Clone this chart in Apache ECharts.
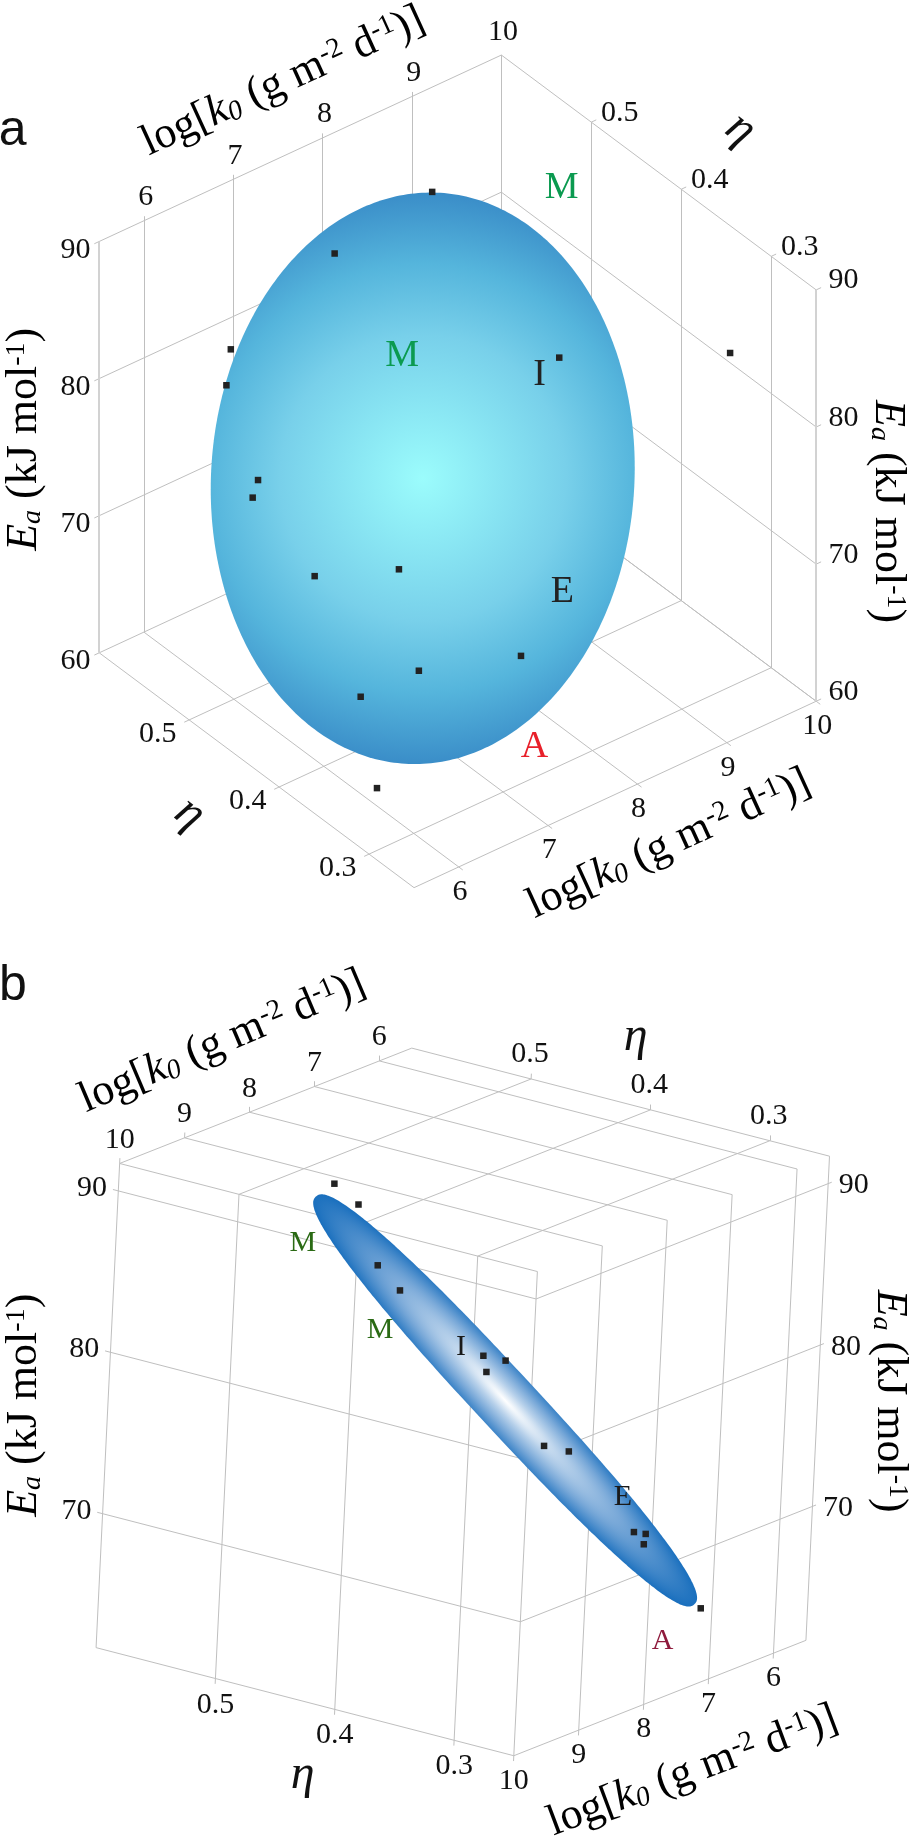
<!DOCTYPE html>
<html><head><meta charset="utf-8">
<style>html,body{margin:0;padding:0;background:#fff}#c{width:911px;height:1837px}</style>
<script src="https://cdn.jsdelivr.net/npm/echarts@6/dist/echarts.min.js"></script>
</head><body><div id="c"></div>
<script>
// ---- data (both views show the same samples) ----
const kTicks = [6, 7, 8, 9, 10];
const etaTicks = [0.5, 0.4, 0.3];
const eaTicksA = [60, 70, 80, 90];
const eaTicksB = [70, 80, 90];
const kRange = [5.5, 10];
const etaRange = [0.6, 0.25];
const eaRangeA = [60, 90];
const eaRangeB = [61.7, 91.7];

const pointK   = [8.32, 7.47, 6.59, 6.43, 6.19, 6.13, 9.52, 6.25, 6.73, 7.19, 6.50, 6.01, 5.81];
const pointEta = [0.510, 0.534, 0.562, 0.551, 0.492, 0.492, 0.298, 0.435, 0.389, 0.299, 0.344, 0.360, 0.322];
const pointEa  = [89.5, 86.4, 80.7, 79.1, 75.8, 74.7, 84.5, 71.4, 72.7, 69.4, 68.2, 67.0, 62.8];
// a sample visible only in view a
const extraK = [7.93], extraEta = [0.33], extraEa = [87.4];

const ellipseCenterA = [7.258, 0.415, 76.47];
const ellipseCenterB = [7.276, 0.415, 76.23];
const ellipseAMajor = [0.198, 0, 20.22];
const ellipseAMinor = [2.364, 0, -8.10];
const ellipseBMajor = [3.128, 0, 17.6];
const ellipseBMinor = [-0.329, 0, 0.74];

const regimeNames = ['M', 'M', 'I', 'E', 'A'];

// ---- axonometric views of (k, eta, Ea) on each panel's hidden value axes ----
const projA = (k, e, a) => [171 + 154 * (k - 5.5) + 1550 * (0.6 - e), 1112 - 71 * (k - 5.5) + 1150 * (0.6 - e) - 23.5 * (a - 60)];
const projB = (k, e, a) => [165 + 111.5 * (10 - k) + 2050 * (0.6 - e) + 1.35 * (a - 61.7), 1248 - 44 * (10 - k) + 530 * (0.6 - e) - 27.7 * (a - 61.7)];

const seg = (p, a, b) => ({ coords: [p(...a), p(...b)] });
const [k0, k1] = kRange, [e0, e1] = etaRange;
// small tick stubs past the box edges
const dk = 0.055, de = 0.0045, da = 0.33;

// panel a gridlines
const gridA = [], heavyA = [];
{
  const [a0, a1] = eaRangeA;
  kTicks.forEach(k => { gridA.push(seg(projA, [k, e0, a0], [k, e0, a1 + (k === k1 ? 0 : da)])); gridA.push(seg(projA, [k, e0, a0], [k, e1 - de, a0])); });
  etaTicks.forEach(e => { gridA.push(seg(projA, [k1, e, a0], [k1, e, a1])); gridA.push(seg(projA, [k0 - dk, e, a0], [k1, e, a0])); gridA.push(seg(projA, [k1, e, a1], [k1 + dk, e, a1])); });
  eaTicksA.forEach(a => { gridA.push(seg(projA, [k0 - dk, e0, a], [k1, e0, a])); gridA.push(seg(projA, [k1, e0, a], [k1, e1, a])); gridA.push(seg(projA, [k1, e1, a], [k1 + dk, e1, a])); });
  gridA.push(seg(projA, [k0, e0, a0], [k0, e1, a0]), seg(projA, [k0, e1, a0], [k1, e1, a0]));
  heavyA.push(seg(projA, [k0, e0, a0], [k0, e0, a1]), seg(projA, [k1, e1, a0], [k1, e1, a1]));
}
// panel b gridlines
const gridB = [];
{
  const [a0, a1] = eaRangeB;
  [...kTicks, k0].forEach(k => { gridB.push(seg(projB, [k, e0, a1], [k, e1, a1])); gridB.push(seg(projB, [k, e1, a0 - (k === k0 ? 0 : da)], [k, e1, a1])); });
  kTicks.forEach(k => gridB.push(seg(projB, [k, e0, a1], [k, e0, a1 + da])));
  [...etaTicks, e0].forEach(e => { gridB.push(seg(projB, [k0, e, a1], [k1, e, a1])); gridB.push(seg(projB, [k1, e, a0 - (e === e0 ? 0 : da)], [k1, e, a1])); });
  etaTicks.forEach(e => gridB.push(seg(projB, [k0, e, a1], [k0, e, a1 + da])));
  eaTicksB.forEach(a => { gridB.push(seg(projB, [k1, e0 + de, a], [k1, e1, a])); gridB.push(seg(projB, [k1, e1, a], [k0 - dk, e1, a])); });
  gridB.push(seg(projB, [k1, e0, a0], [k1, e1, a0]), seg(projB, [k1, e1, a0], [k0, e1, a0]));
}

// ---- text ----
const SERIF = '"Liberation Serif","Times New Roman",serif';
const rich = {
  n: { fontFamily: SERIF, fontSize: 44, color: '#111' },
  i: { fontFamily: SERIF, fontSize: 44, fontStyle: 'italic', color: '#111' },
  sub: { fontFamily: SERIF, fontSize: 28, fontStyle: 'italic', color: '#111', verticalAlign: 'bottom' },
  sup: { fontFamily: SERIF, fontSize: 28, color: '#111', verticalAlign: 'top' }
};
const kTitle = '{n|log[}{i|k}{sub|0}{n| (g m}{sup|-2}{n| d}{sup|-1}{n|)]}';
const eaTitle = '{i|E}{sub|a}{n| (kJ mol}{sup|-1}{n|)}';
const deg = d => d * Math.PI / 180;

function tickTexts(list, p, off, fmt) { return list.map(v => { const q = p(v); return { x: q[0] + off[0], y: q[1] + off[1], t: fmt ? v.toFixed(1) : String(v), s: 30 }; }); }

const textA = [
  ...tickTexts(kTicks, k => projA(k, e0, eaRangeA[1]), [3, -40]),
  ...tickTexts(etaTicks, e => projA(k1, e, eaRangeA[1]), [49, -15], true),
  ...tickTexts(eaTicksA, a => projA(k0, e0, a), [-41, 15]),
  ...tickTexts(eaTicksA, a => projA(k1, e1, a), [47, -16]),
  ...tickTexts(etaTicks, e => projA(k0, e, eaRangeA[0]), [-54, 24], true),
  ...tickTexts(kTicks, k => projA(k, e1, eaRangeA[0]), [2, 43]),
  { x: 488, y: 133, r: 24.5, rich: kTitle },
  { x: 1153, y: 1440, r: 24.5, rich: kTitle },
  { x: 42, y: 746, r: 90, rich: eaTitle },
  { x: 1530, y: 870, r: -90, rich: eaTitle },
  { x: 1276, y: 215, r: -38, t: 'η', s: 48, st: 'italic' },
  { x: 327, y: 1388, r: -38, t: 'η', s: 48, st: 'italic' },
  { x: 968, y: 315, t: regimeNames[0], s: 38, c: '#0b9a50' },
  { x: 693, y: 603, t: regimeNames[1], s: 38, c: '#0b9a50' },
  { x: 930, y: 636, t: regimeNames[2], s: 38, c: '#222' },
  { x: 969, y: 1008, t: regimeNames[3], s: 38, c: '#222' },
  { x: 921, y: 1274, t: regimeNames[4], s: 38, c: '#e8202a' },
  { x: 22, y: 218, t: 'a', s: 50, f: '"Liberation Sans",Arial,sans-serif' }
];
const textB = [
  ...tickTexts(kTicks, k => projB(k, e0, eaRangeB[1]), [0, -40]),
  ...tickTexts(etaTicks, e => projB(k0, e, eaRangeB[1]), [-2, -42], true),
  ...tickTexts(eaTicksB, a => projB(k1, e0, a), [-45, -5]),
  ...tickTexts(eaTicksB, a => projB(k0, e1, a), [44, 3]),
  ...tickTexts(etaTicks, e => projB(k1, e, eaRangeB[0]), [0, 45], true),
  ...tickTexts(kTicks, k => projB(k, e1, eaRangeB[0]), [0, 43]),
  { x: 382, y: 208, r: 23, rich: kTitle },
  { x: 1190, y: 1460, r: 20.5, rich: kTitle },
  { x: 42, y: 832, r: 90, rich: eaTitle },
  { x: 1528, y: 825, r: -90, rich: eaTitle },
  { x: 1092, y: 200, t: 'η', s: 48, st: 'italic' },
  { x: 520, y: 1467, t: 'η', s: 48, st: 'italic' },
  { x: 520, y: 553, t: regimeNames[0], s: 30, c: '#2a6a14' },
  { x: 653, y: 703, t: regimeNames[1], s: 30, c: '#2a6a14' },
  { x: 792, y: 733, t: regimeNames[2], s: 30, c: '#1a1a1a' },
  { x: 1070, y: 990, t: regimeNames[3], s: 30, c: '#1a1a1a' },
  { x: 1138, y: 1236, t: regimeNames[4], s: 30, c: '#8e1a3c' },
  { x: 22, y: 112, t: 'b', s: 50, f: '"Liberation Sans",Arial,sans-serif' }
];

function textSeries(list, idx) {
  return {
    type: 'custom', coordinateSystem: 'cartesian2d', xAxisIndex: idx, yAxisIndex: idx, z: 6, silent: true, clip: false,
    data: list.map(o => [o.x, o.y]),
    renderItem(params, api) {
      const o = list[params.dataIndex];
      const q = api.coord([api.value(0), api.value(1)]);
      return {
        type: 'text', x: q[0], y: q[1], rotation: deg(o.r || 0),
        style: o.rich ? { text: o.rich, rich, align: 'center', verticalAlign: 'middle' }
          : { text: o.t, fontFamily: o.f || SERIF, fontSize: o.s, fontStyle: o.st || 'normal', fill: o.c || '#111', align: 'center', verticalAlign: 'middle' }
      };
    }
  };
}
// gradShort scales the colour ramp's short radius relative to the outline's short radius;
// power is the outline's exponent (2 = plain ellipse, larger = blunter ends)
function ellipseSeries(p, center, major, minor, stops, gradShort, power, idx) {
  const add = (a, b) => [a[0] + b[0], a[1] + b[1], a[2] + b[2]];
  const c = p(...center), m = p(...add(center, major)), n = p(...add(center, minor));
  return {
    type: 'custom', coordinateSystem: 'cartesian2d', xAxisIndex: idx, yAxisIndex: idx, z: 3, silent: true,
    data: [[...c, ...m, ...n]],
    renderItem(params, api) {
      const P0 = api.coord([api.value(0), api.value(1)]);
      const P1 = api.coord([api.value(2), api.value(3)]);
      const P2 = api.coord([api.value(4), api.value(5)]);
      const R = 100;
      const rm = Math.hypot(P1[0] - P0[0], P1[1] - P0[1]);
      const rn = Math.hypot(P2[0] - P0[0], P2[1] - P0[1]);
      const sx = rm / R, sy = rn * gradShort / R;
      const lx = rm / sx, ly = rn / sy;
      const outline = [];
      const steps = 360, ex = 2 / power;
      for (let i = 0; i < steps; i++) {
        const t = i / steps * 2 * Math.PI, ct = Math.cos(t), st = Math.sin(t);
        outline.push([lx * Math.sign(ct) * Math.pow(Math.abs(ct), ex), ly * Math.sign(st) * Math.pow(Math.abs(st), ex)]);
      }
      return {
        type: 'polygon', x: P0[0], y: P0[1],
        rotation: -Math.atan2(P1[1] - P0[1], P1[0] - P0[0]),
        scaleX: sx, scaleY: sy,
        shape: { points: outline },
        style: { fill: { type: 'radial', x: 0.5, y: 0.5, r: R / (2 * Math.min(lx, ly)), colorStops: stops } }
      };
    }
  };
}
const linesSeries = (data, idx, color, width, z) => ({
  type: 'lines', coordinateSystem: 'cartesian2d', xAxisIndex: idx, yAxisIndex: idx, polyline: false, silent: true, z,
  lineStyle: { color, width, opacity: 1, curveness: 0 }, data
});
const pts = (p, K, E, A) => K.map((k, i) => p(k, E[i], A[i]));
const pointSeries = (data, idx) => ({
  type: 'scatter', xAxisIndex: idx, yAxisIndex: idx, symbol: 'rect', symbolSize: 6.5, z: 5, silent: true,
  itemStyle: { color: '#222', opacity: 1 }, data
});

const hiddenAxis = (gridIndex, max, inverse) => ({ type: 'value', gridIndex, min: 0, max, inverse, show: false });
const chart = echarts.init(document.getElementById('c'), null, { renderer: 'canvas' });
chart.setOption({
  animation: false, backgroundColor: '#fff',
  grid: [
    { left: 0, top: 4, width: 907, height: 921 },
    { left: -1, top: 920.5, width: 911, height: 917 }
  ],
  xAxis: [hiddenAxis(0, 1563, false), hiddenAxis(1, 1563, false)],
  yAxis: [hiddenAxis(0, 1578.5, true), hiddenAxis(1, 1573, true)],
  series: [
    linesSeries(gridA, 0, '#bfbfbf', 1, 1),
    linesSeries(heavyA, 0, '#d2d2d2', 2, 1),
    ellipseSeries(projA, ellipseCenterA, ellipseAMajor, ellipseAMinor, [
      { offset: 0, color: '#9bfcfc' }, { offset: 0.5, color: '#78d0ea' }, { offset: 0.75, color: '#55b5dc' }, { offset: 1, color: '#3a8dc8' }], 1.35, 2, 0),
    pointSeries([...pts(projA, pointK, pointEta, pointEa), ...pts(projA, extraK, extraEta, extraEa)], 0),
    textSeries(textA, 0),
    linesSeries(gridB, 1, '#bfbfbf', 1, 1),
    ellipseSeries(projB, ellipseCenterB, ellipseBMajor, ellipseBMinor, [
      { offset: 0, color: '#ffffff' }, { offset: 0.3, color: '#b6d0ea' }, { offset: 0.6, color: '#78a8d8' }, { offset: 1, color: '#1b70be' }], 1.17, 2.4, 1),
    pointSeries(pts(projB, pointK, pointEta, pointEa), 1),
    textSeries(textB, 1)
  ]
});
</script></body></html>
